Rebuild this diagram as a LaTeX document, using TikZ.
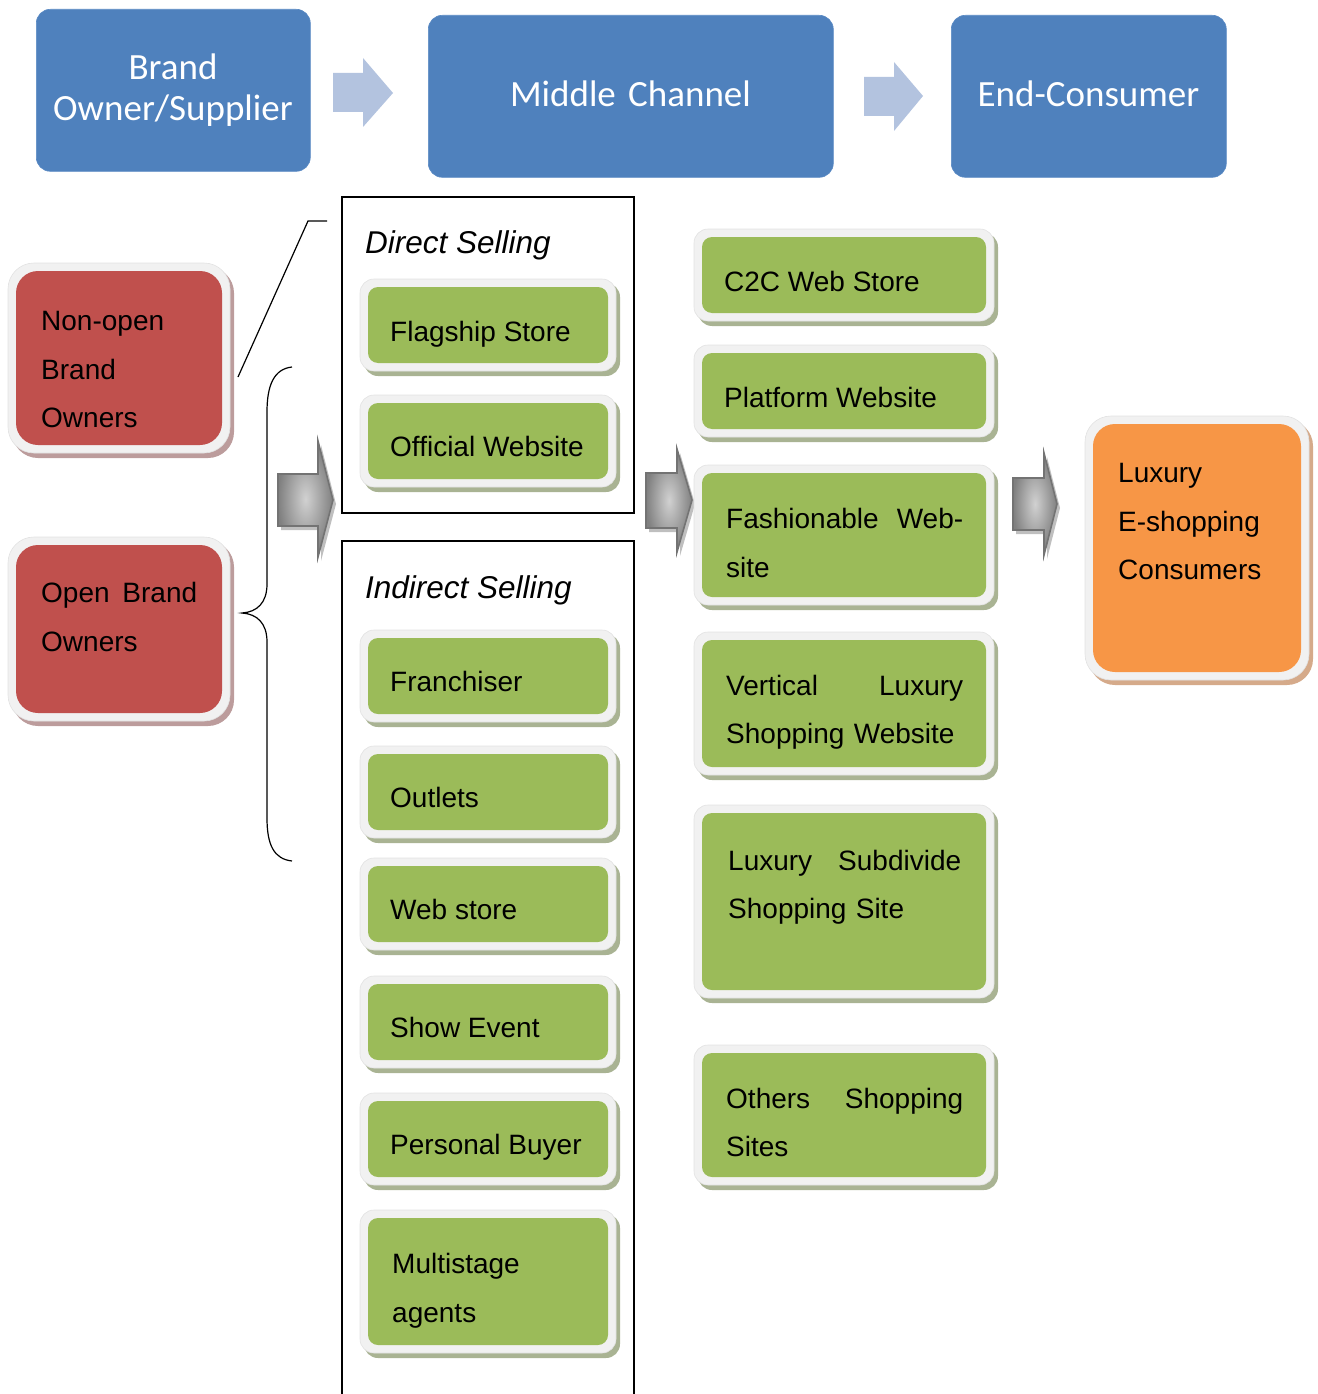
\documentclass[tikz,border=0pt]{standalone}
\usepackage{fontspec}
\setmainfont{Liberation Sans}
\newfontfamily\hdrfont{Carlito}
\definecolor{hblue}{HTML}{4F81BD}
\definecolor{hblueedge}{HTML}{5A8AC4}
\definecolor{lblue}{HTML}{B3C3DF}
\definecolor{rd}{HTML}{C0504D}
\definecolor{rdshadow}{HTML}{BC9C9C}
\definecolor{gr}{HTML}{9BBB59}
\definecolor{grshadow}{HTML}{A9B393}
\definecolor{og}{HTML}{F79646}
\definecolor{ogshadow}{HTML}{D5AA8A}
\definecolor{framecol}{HTML}{F1F1F1}
\definecolor{frameedge}{HTML}{E2E2E2}
% #1 name, #2 x1, #3 y1, #4 x2, #5 y2, #6 colour, #7 inner radius
\newcommand\SBox[7]{%
  \fill[#6shadow, rounded corners=#7pt+4pt] (#2-8+4,#3-8+4) rectangle (#4+8+4,#5+8+5);
  \filldraw[fill=framecol, draw=frameedge, line width=0.6pt, rounded corners=#7pt+4pt] (#2-8,#3-8) rectangle (#4+8,#5+8);
  \node[inner sep=0, outer sep=0, fill=#6, rounded corners=#7pt, anchor=north west,
        minimum width={(#4-#2)*1pt}, minimum height={(#5-#3)*1pt}] (#1) at (#2,#3) {};
}
\begin{document}
\begin{tikzpicture}[x=1pt,y=-1pt,
  hdrbox/.style={fill=hblue, draw=hblueedge, line width=0.6pt, rounded corners=14pt, inner sep=0, anchor=north west},
  hdrtxt/.style={font=\hdrfont\fontsize{37}{41}\selectfont, text=white, inner sep=0, anchor=base, align=center, text width=300pt},
  txt/.style={font=\fontsize{28}{48.5}\selectfont, inner sep=0, anchor=base west},
  mtxt/.style={txt, text width=270pt, align=left},
  ital/.style={font=\fontsize{31.5}{36}\selectfont\itshape, inner sep=0, anchor=base west},
  frameline/.style={draw=black, line width=1.3pt},
  garrow/.style={draw=black!55, line width=1.6pt, inner color=black!18, outer color=black!50},
  gshadow/.style={fill=black!25},
  barrow/.style={fill=lblue}
]
\useasboundingbox (0,0) rectangle (1317,1394);

% ---------- header ----------
\node[hdrbox, minimum width=274pt, minimum height=162pt] (bo) at (36,9) {};
\node[hdrbox, minimum width=405pt, minimum height=162pt] (mc) at (428,15) {};
\node[hdrbox, minimum width=275pt, minimum height=162pt] (ec) at (951,15) {};
\node[hdrtxt] (botxt) at (173,80) {Brand\\Owner/Supplier};
\node[hdrtxt] (mctxt) at (630.5,107) {Middle Channel};
\node[hdrtxt] (ectxt) at (1088.5,107) {End-Consumer};

\fill[barrow] (333,73) -- (363,73) -- (363,58) -- (393,93) -- (363,127) -- (363,112) -- (333,112) -- cycle;
\fill[barrow] (864,77) -- (894,77) -- (894,62) -- (923,96) -- (894,131) -- (894,116) -- (864,116) -- cycle;

% ---------- left red boxes ----------
\SBox{nonopen}{16}{271}{222}{445}{rd}{22}
\SBox{open}{16}{545}{222}{713}{rd}{22}
\node[mtxt] (nonopentxt) at (41,330.5) {Non-open\\Brand\\Owners};
\node[mtxt, font=\fontsize{28}{49}\selectfont] (opentxt) at (41,602.5) {\hbox to 156pt{Open\hfill Brand}\\Owners};

% connector line and brace
\coordinate (lA) at (238,377);
\coordinate (lB) at (308,221);
\coordinate (lC) at (327,221);
\draw[frameline, line width=1.2pt] (lA) -- (lB) -- (lC);
\coordinate (bt) at (292,367);
\coordinate (bm) at (242,613);
\coordinate (bb) at (292,861);
\draw[line width=1.2pt] (bt) .. controls (274,369) and (267,385) .. (267,412) -- (267,584)
  .. controls (267,603) and (257,612) .. (bm)
  .. controls (257,614) and (267,623) .. (267,642) -- (267,818)
  .. controls (267,845) and (274,859) .. (bb);

% ---------- gray block arrows ----------
\fill[gshadow] (281,478) -- (321,478) -- (321,445) -- (336,504) -- (321,561) -- (321,530) -- (281,530) -- cycle;
\shadedraw[garrow] (278,474) -- (318,474) -- (318,441) -- (333,500) -- (318,557) -- (318,526) -- (278,526) -- cycle;
\fill[gshadow] (649,477) -- (680,477) -- (680,453) -- (695,504) -- (680,556) -- (680,532) -- (649,532) -- cycle;
\shadedraw[garrow] (646,473) -- (677,473) -- (677,449) -- (692,500) -- (677,552) -- (677,528) -- (646,528) -- cycle;
\fill[gshadow] (1016,482) -- (1047,482) -- (1047,457) -- (1060,508) -- (1047,559) -- (1047,534) -- (1016,534) -- cycle;
\shadedraw[garrow] (1013,478) -- (1044,478) -- (1044,453) -- (1057,504) -- (1044,555) -- (1044,530) -- (1013,530) -- cycle;

% ---------- selling frames ----------
\coordinate (dsNW) at (342,197);
\coordinate (dsSE) at (634,513);
\draw[frameline] (dsNW) rectangle (dsSE);
\coordinate (isSW) at (342,1396);
\coordinate (isNW) at (342,541);
\coordinate (isNE) at (634,541);
\coordinate (isSE) at (634,1396);
\draw[frameline] (isSW) -- (isNW) -- (isNE) -- (isSE);
\node[ital] (dstitle) at (365,253.5) {Direct Selling};
\node[ital] (istitle) at (365,598.5) {Indirect Selling};

% ---------- left green column ----------
\SBox{flag}{368}{287}{608}{363}{gr}{10}
\SBox{offw}{368}{403}{608}{479}{gr}{10}
\SBox{fran}{368}{638}{608}{714}{gr}{10}
\SBox{outl}{368}{754}{608}{830}{gr}{10}
\SBox{webs}{368}{866}{608}{942}{gr}{10}
\SBox{show}{368}{984}{608}{1060}{gr}{10}
\SBox{pers}{368}{1101}{608}{1177}{gr}{10}
\SBox{mult}{368}{1218}{608}{1345}{gr}{10}
\node[txt] (flagtxt) at (390,341) {Flagship Store};
\node[txt] (offwtxt) at (390,456.5) {Official Website};
\node[txt] (frantxt) at (390,691.5) {Franchiser};
\node[txt] (outltxt) at (390,807.5) {Outlets};
\node[txt] (webstxt) at (390,919.5) {Web store};
\node[txt] (showtxt) at (390,1037.5) {Show Event};
\node[txt] (perstxt) at (390,1154.5) {Personal Buyer};
\node[mtxt, font=\fontsize{28}{49}\selectfont] (multtxt) at (392,1273.5) {Multistage\\agents};

% ---------- right green column ----------
\SBox{c2c}{702}{237}{986}{313}{gr}{10}
\SBox{plat}{702}{353}{986}{429}{gr}{10}
\SBox{fash}{702}{473}{986}{597}{gr}{10}
\SBox{vert}{702}{640}{986}{767}{gr}{10}
\SBox{subd}{702}{813}{986}{990}{gr}{10}
\SBox{othr}{702}{1053}{986}{1177}{gr}{10}
\node[txt] (c2ctxt) at (724,291.5) {C2C Web Store};
\node[txt] (plattxt) at (724,407.5) {Platform Website};
\node[mtxt, font=\fontsize{28}{49}\selectfont] (fashtxt) at (726,528.5) {\hbox to 237pt{Fashionable\hfill Web-}\\site};
\node[mtxt, font=\fontsize{28}{48}\selectfont] (verttxt) at (726,695.5) {\hbox to 237pt{Vertical\hfill Luxury}\\Shopping Website};
\node[mtxt, font=\fontsize{28}{48}\selectfont] (subdtxt) at (728,870.5) {\hbox to 233pt{Luxury\hfill Subdivide}\\Shopping Site};
\node[mtxt, font=\fontsize{28}{48}\selectfont] (othrtxt) at (726,1108.5) {\hbox to 237pt{Others\hfill Shopping}\\Sites};

% ---------- consumer box ----------
\SBox{cons}{1093}{424}{1301}{672}{og}{22}
\node[mtxt] (constxt) at (1118,482.5) {Luxury\\E-shopping\\Consumers};
\end{tikzpicture}
\end{document}
